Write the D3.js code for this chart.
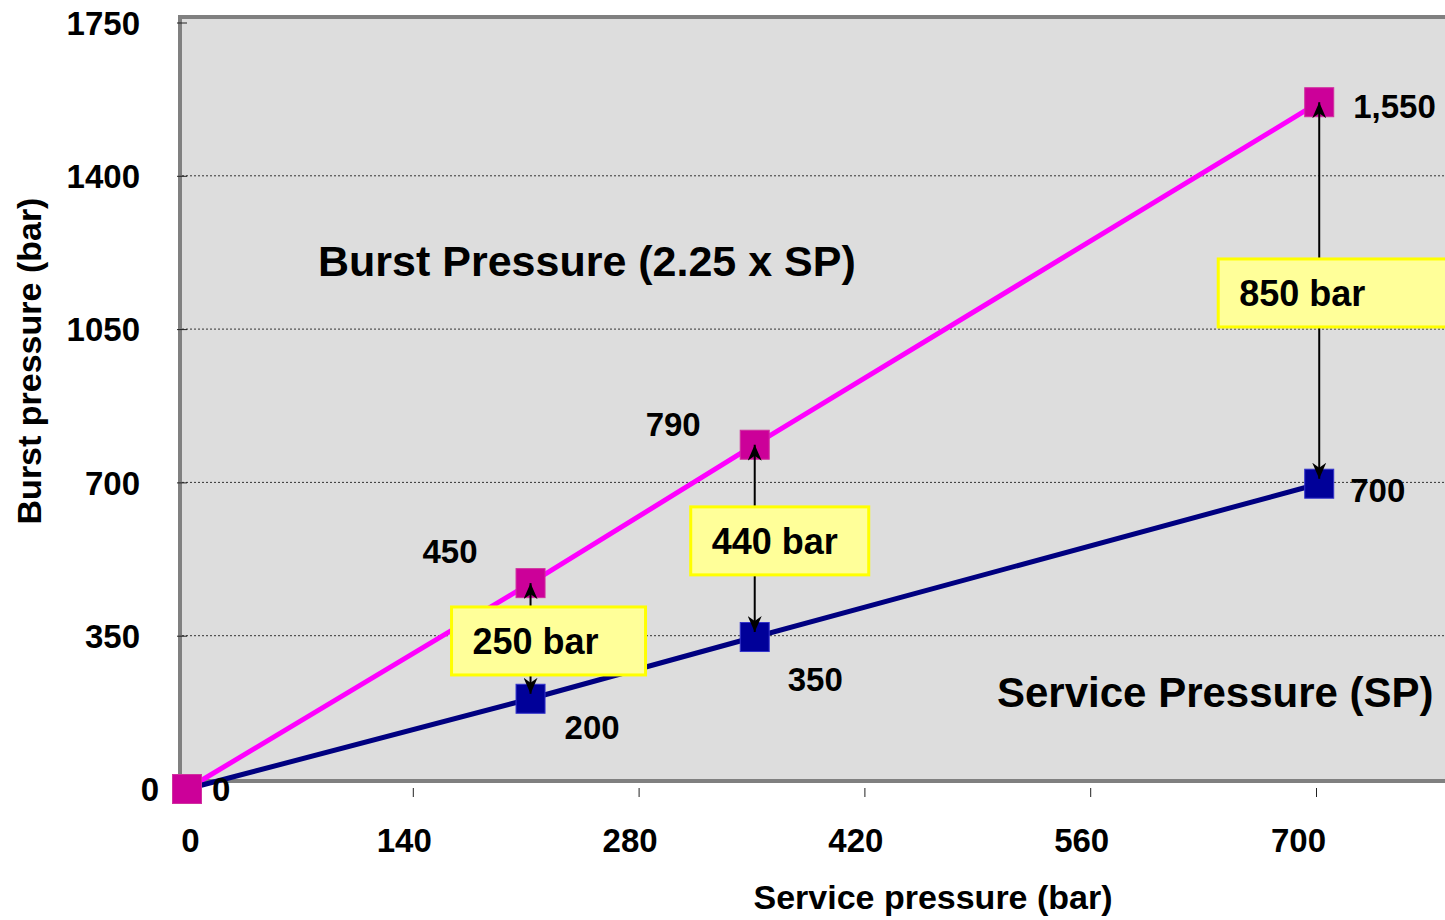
<!DOCTYPE html>
<html>
<head>
<meta charset="utf-8">
<script src="https://cdn.jsdelivr.net/npm/d3@7/dist/d3.min.js"></script>
<style>
  body { margin: 0; background: #fff; }
  svg { display: block; font-family: 'Liberation Sans', Arial, sans-serif; font-weight: bold; }
</style>
</head>
<body>
<div class="chart"></div>
<script>
// values
const servicePressure = [0, 213, 352, 702];
const spValues = [0, 206, 347, 697];
const bpValues = [0, 470, 786, 1568];
const spLabels = ['0', '200', '350', '700'];
const bpLabels = ['0', '450', '790', '1,550'];
const gapLabels = ['', '250 bar', '440 bar', '850 bar'];
const xTicks = [0, 140, 280, 420, 560, 700];
const yTicks = [0, 350, 700, 1050, 1400, 1750];

const width = 1445;
const height = 920;
const frame = { left: 180, top: 17, bottom: 781 };

// label placement (px offsets from the point)
const bpLabelPos = [
  { dx: -28, dy: 0, anchor: 'end' },
  { dx: -53, dy: -32, anchor: 'end' },
  { dx: -54, dy: -21, anchor: 'end' },
  { dx: 34, dy: 4, anchor: 'start' }
];
const spLabelPos = [
  { dx: 25, dy: 0, anchor: 'start' },
  { dx: 34, dy: 28, anchor: 'start' },
  { dx: 33, dy: 42, anchor: 'start' },
  { dx: 31, dy: 6, anchor: 'start' }
];
const boxPos = [null, { left: 79, w: 194 }, { left: 64, w: 178 }, { left: 101, w: 240 }];

const xScale = d3.scaleLinear().domain([0, 700]).range([187, 1316]);
const yScale = d3.scaleLinear().domain([0, 1750]).range([789, 22.5]);

const points = servicePressure.map((x, i) => ({ x: x, sp: spValues[i], bp: bpValues[i], i: i }));

const svg = d3.select('.chart')
  .append('svg')
  .attr('width', width)
  .attr('height', height);

svg.append('defs').append('marker')
  .attr('id', 'arrow')
  .attr('viewBox', '0 -7 16 14')
  .attr('refX', 16)
  .attr('refY', 0)
  .attr('markerWidth', 16)
  .attr('markerHeight', 14)
  .attr('markerUnits', 'userSpaceOnUse')
  .attr('orient', 'auto-start-reverse')
  .append('path')
  .attr('d', 'M0,-7L16,0L0,7L5,0Z')
  .attr('fill', '#000');

// plot area
svg.append('rect')
  .attr('x', frame.left)
  .attr('y', frame.top)
  .attr('width', 1400)
  .attr('height', frame.bottom - frame.top)
  .attr('fill', '#dddddd')
  .attr('stroke', '#808080')
  .attr('stroke-width', 4);

// grid
svg.append('g')
  .selectAll('line')
  .data(yTicks.filter((d) => d > 0 && d < 1750))
  .enter()
  .append('line')
  .attr('x1', frame.left + 2)
  .attr('x2', width)
  .attr('y1', (d) => yScale(d))
  .attr('y2', (d) => yScale(d))
  .attr('stroke', '#333')
  .attr('stroke-width', 1)
  .attr('stroke-dasharray', '2,2');

// y axis: small inner ticks + labels
svg.append('g')
  .attr('transform', 'translate(177, 0)')
  .call(d3.axisRight(yScale).tickValues(yTicks).tickSize(10).tickFormat(''))
  .call((g) => g.select('.domain').remove())
  .call((g) => g.selectAll('line').attr('stroke', '#222'));

svg.append('g')
  .attr('transform', 'translate(140, 0)')
  .call(d3.axisLeft(yScale).tickValues(yTicks.filter((d) => d > 0)).tickSize(0).tickPadding(0)
    .tickFormat(d3.format('d')))
  .call((g) => g.select('.domain').remove())
  .call((g) => g.selectAll('text')
    .attr('x', 0)
    .attr('dy', '0.36em')
    .attr('fill', '#000')
    .attr('font-size', 33)
    .attr('font-family', null));

// x axis
svg.append('g')
  .attr('transform', 'translate(0, 788)')
  .call(d3.axisBottom(xScale).tickValues(xTicks).tickSize(9).tickFormat(d3.format('d')))
  .call((g) => g.select('.domain').remove())
  .call((g) => g.selectAll('line').attr('stroke', '#222'))
  .call((g) => g.selectAll('text')
    .attr('y', 64)
    .attr('dy', 0)
    .attr('dx', (d) => d === 0 ? 3 : (d === 700 ? -18 : -9))
    .attr('fill', '#000')
    .attr('font-size', 33)
    .attr('font-family', null));

// axis titles
svg.append('text')
  .attr('x', 933)
  .attr('y', 909)
  .attr('text-anchor', 'middle')
  .attr('font-size', 34)
  .text('Service pressure (bar)');

svg.append('text')
  .attr('transform', 'translate(29.5, 361) rotate(-90)')
  .attr('dy', '0.35em')
  .attr('text-anchor', 'middle')
  .attr('font-size', 34)
  .text('Burst pressure (bar)');

// series titles
svg.append('text')
  .attr('x', 318)
  .attr('y', 261)
  .attr('dy', '0.36em')
  .attr('font-size', 43)
  .text('Burst Pressure (2.25 x SP)');

svg.append('text')
  .attr('x', 997)
  .attr('y', 692)
  .attr('dy', '0.36em')
  .attr('font-size', 42)
  .text('Service Pressure (SP)');

// lines
const bpLine = d3.line().x((d) => xScale(d.x)).y((d) => yScale(d.bp));
const spLine = d3.line().x((d) => xScale(d.x)).y((d) => yScale(d.sp));

svg.append('path')
  .datum(points)
  .attr('d', bpLine)
  .attr('fill', 'none')
  .attr('stroke', '#ff00ff')
  .attr('stroke-width', 5);

svg.append('path')
  .datum(points)
  .attr('d', spLine)
  .attr('fill', 'none')
  .attr('stroke', '#000080')
  .attr('stroke-width', 5);

const size = 29;

svg.append('g')
  .selectAll('rect')
  .data(points)
  .enter()
  .append('rect')
  .attr('x', (d) => xScale(d.x) - size / 2)
  .attr('y', (d) => yScale(d.sp) - size / 2)
  .attr('width', size)
  .attr('height', size)
  .attr('fill', '#000099')
  .attr('stroke', '#3333cc')
  .attr('stroke-width', 1);

svg.append('g')
  .selectAll('rect')
  .data(points)
  .enter()
  .append('rect')
  .attr('x', (d) => xScale(d.x) - size / 2)
  .attr('y', (d) => yScale(d.bp) - size / 2)
  .attr('width', size)
  .attr('height', size)
  .attr('fill', '#cc0099')
  .attr('stroke', '#d0309f')
  .attr('stroke-width', 1);

// difference arrows + boxes
const gaps = points.filter((d) => d.i > 0);

svg.append('g')
  .selectAll('line')
  .data(gaps)
  .enter()
  .append('line')
  .attr('x1', (d) => xScale(d.x))
  .attr('x2', (d) => xScale(d.x))
  .attr('y1', (d) => yScale(d.bp))
  .attr('y2', (d) => yScale(d.sp) - 5)
  .attr('stroke', '#000')
  .attr('stroke-width', 2)
  .attr('marker-start', 'url(#arrow)')
  .attr('marker-end', 'url(#arrow)');

const box = svg.append('g')
  .selectAll('g')
  .data(gaps)
  .enter()
  .append('g')
  .attr('transform', (d) => {
    const cy = (yScale(d.bp) + yScale(d.sp)) / 2;
    return `translate(${xScale(d.x) - boxPos[d.i].left}, ${cy})`;
  });

box.append('rect')
  .attr('x', 0)
  .attr('y', -34)
  .attr('width', (d) => boxPos[d.i].w)
  .attr('height', 68)
  .attr('fill', '#ffff99')
  .attr('stroke', '#ffff00')
  .attr('stroke-width', 3);

box.append('text')
  .attr('x', 21)
  .attr('dy', '0.36em')
  .attr('font-size', 36)
  .text((d) => gapLabels[d.i]);

// point labels
svg.append('g')
  .selectAll('text')
  .data(points)
  .enter()
  .append('text')
  .attr('x', (d) => xScale(d.x) + bpLabelPos[d.i].dx)
  .attr('y', (d) => yScale(d.bp) + bpLabelPos[d.i].dy)
  .attr('dy', '0.36em')
  .attr('text-anchor', (d) => bpLabelPos[d.i].anchor)
  .attr('font-size', 33)
  .text((d) => bpLabels[d.i]);

svg.append('g')
  .selectAll('text')
  .data(points)
  .enter()
  .append('text')
  .attr('x', (d) => xScale(d.x) + spLabelPos[d.i].dx)
  .attr('y', (d) => yScale(d.sp) + spLabelPos[d.i].dy)
  .attr('dy', '0.36em')
  .attr('text-anchor', (d) => spLabelPos[d.i].anchor)
  .attr('font-size', 33)
  .text((d) => spLabels[d.i]);
</script>
</body>
</html>
